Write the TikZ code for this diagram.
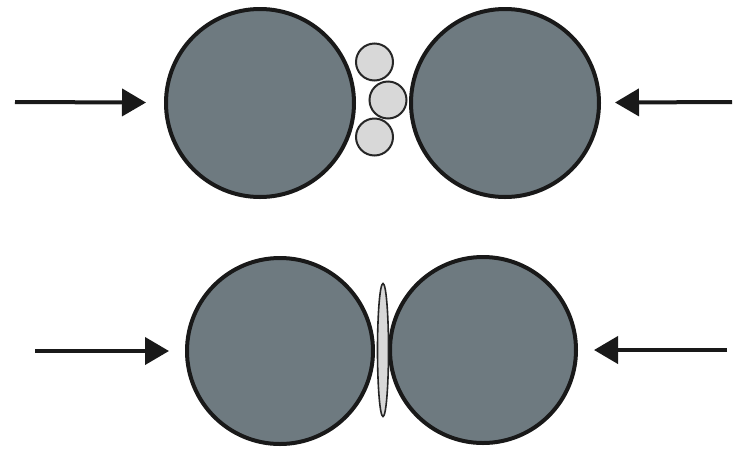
\documentclass[tikz,border=0pt]{standalone}
\usepackage{xcolor}
\definecolor{ballgray}{RGB}{110, 122, 128}
\definecolor{graingray}{RGB}{216, 216, 216}
\usepackage{tikz}
\usetikzlibrary{arrows.meta, positioning, shapes.geometric}

\begin{document}
\begin{tikzpicture}[x=1pt, y=-1pt, >={Triangle[length=24pt, width=27pt]},
    ball/.style={circle, draw=black!90, line width=4pt, fill=ballgray, inner sep=0pt, minimum size=188pt},
    grain/.style={circle, draw=black!85, line width=2pt, fill=graingray, inner sep=0pt, minimum size=37pt},
    flake/.style={ellipse, draw=black!85, line width=1.6pt, fill=graingray, inner sep=0pt, minimum width=11pt, minimum height=133pt},
    push/.style={->, line width=4pt, black!90, shorten >=16pt}]
    \useasboundingbox (0,0) rectangle (734,448);
    % before pressing
    \node[grain] (g1) at (374.5,62) {};
    \node[grain] (g2) at (388,100) {};
    \node[grain] (g3) at (374.5,137) {};
    \node[ball] (tl) at (260,103) {};
    \node[ball] (tr) at (505,103) {};
    \coordinate (tla) at (15,102);
    \coordinate (tra) at (732,102);
    \draw[push, shorten >=18pt] (tla) -- (tl);
    \draw[push, shorten >=14pt] (tra) -- (tr);
    % after pressing
    \node[ball, minimum size=186pt] (bl) at (280,351) {};
    \node[ball, minimum size=186pt] (br) at (483,350) {};
    \node[flake] (fl) at (383,350) {};
    \coordinate (bla) at (35,351);
    \coordinate (bra) at (727,350);
    \draw[push] (bla) -- (bl);
    \draw[push] (bra) -- (br);
\end{tikzpicture}
\end{document}
